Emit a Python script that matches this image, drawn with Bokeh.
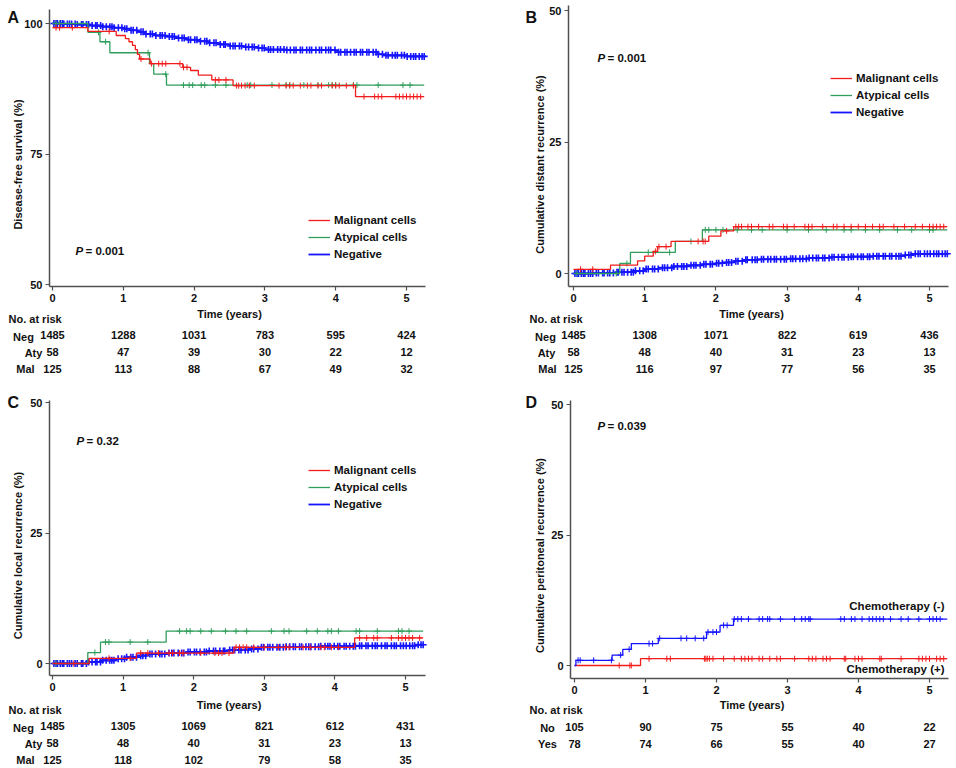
import numpy as np
from bokeh.plotting import figure
from bokeh.models import Range1d, Label, Legend, LegendItem, ColumnDataSource
from bokeh.core.properties import value
from bokeh.layouts import column, row
from bokeh.embed import file_html
from bokeh.resources import INLINE

# ------------------------------------------------------------------ data
years = [0, 1, 2, 3, 4, 5]
follow_end = 5.25

# Panel A - disease-free survival (%)
a_neg_t = [0, 0.15, 0.35, 0.55, 0.7, 0.85, 1.0, 1.1, 1.2, 1.3, 1.45, 1.6, 1.75, 1.9, 2.05, 2.2, 2.35, 2.5, 2.7, 2.9, 3.0, 3.3, 4.0, 4.6, 4.7, 5.0]
a_neg_v = [100, 99.9, 99.8, 99.6, 99.4, 99.2, 99.0, 98.7, 98.4, 98.0, 97.7, 97.5, 97.2, 96.9, 96.6, 96.3, 96.0, 95.7, 95.5, 95.3, 95.0, 94.9, 94.5, 94.1, 93.9, 93.7]
a_aty_t = [0, 0.5, 0.67, 0.81, 1.37, 1.43, 1.61]
a_aty_v = [100, 98.3, 96.5, 94.4, 92.3, 90.3, 88.2]
a_mal_t = [0, 0.5, 0.9, 1.03, 1.08, 1.13, 1.17, 1.2, 1.23, 1.38, 1.84, 1.95, 2.06, 2.25, 2.55, 4.28]
a_mal_v = [99.2, 98.5, 97.7, 97.1, 96.5, 95.8, 95.0, 94.1, 93.2, 92.3, 91.6, 91.0, 90.1, 89.2, 88.1, 86.0]
a_aty_cens = [0.05, 0.1, 0.65, 0.75, 1.35, 1.6, 1.85, 1.93, 1.98, 2.1, 2.15, 2.3, 2.45, 2.75, 2.8, 3.1, 3.3, 3.35, 3.55, 3.75, 3.9, 3.95, 4.0, 4.25, 4.3, 4.6, 4.95, 5.05]
a_mal_cens = [0.05, 0.1, 0.28, 0.8, 1.25, 1.4, 1.5, 1.55, 1.6, 1.8, 1.85, 1.9, 2.3, 2.35, 2.45, 2.6, 2.63, 2.67, 2.72, 2.78, 2.85, 3.2, 3.3, 3.35, 3.4, 3.5, 3.6, 3.65, 3.75, 3.8, 3.95, 4.0, 4.05, 4.15, 4.25, 4.4, 4.55, 4.6, 4.65, 4.85, 4.9, 4.95, 5.0, 5.05, 5.1, 5.15, 5.2]

# Panel B - cumulative distant recurrence (%)
b_neg_t = [0, 0.3, 0.6, 0.85, 1.0, 1.2, 1.4, 1.6, 1.8, 2.0, 2.1, 2.25, 2.4, 2.6, 3.0, 3.3, 3.6, 3.9, 4.2, 4.65, 4.75]
b_neg_v = [0, 0.1, 0.25, 0.5, 0.85, 1.1, 1.35, 1.55, 1.75, 1.95, 2.1, 2.35, 2.6, 2.7, 2.8, 2.95, 3.1, 3.2, 3.3, 3.5, 3.75]
b_aty_t = [0, 0.65, 0.8, 1.43, 1.81]
b_aty_v = [0, 1.9, 4.0, 6.1, 8.3]
b_mal_t = [0, 0.52, 0.9, 1.0, 1.12, 1.18, 1.37, 1.9, 2.07, 2.25]
b_mal_v = [0.8, 1.6, 2.4, 3.3, 4.2, 5.1, 6.1, 7.1, 8.1, 8.9]
b_aty_cens = [0.05, 0.6, 0.75, 1.05, 1.35, 1.65, 1.85, 1.9, 2.0, 2.1, 2.3, 2.5, 2.65, 3.0, 3.3, 3.55, 3.8, 3.9, 4.1, 4.3, 4.55, 4.75, 5.0, 5.05]
b_mal_cens = [0.1, 0.27, 1.15, 1.2, 1.3, 1.75, 1.82, 1.85, 2.15, 2.28, 2.32, 2.36, 2.45, 2.5, 2.6, 2.75, 2.8, 2.95, 3.0, 3.1, 3.25, 3.3, 3.35, 3.5, 3.65, 3.7, 3.8, 3.9, 4.0, 4.1, 4.2, 4.3, 4.35, 4.5, 4.65, 4.8, 4.9, 5.0, 5.05, 5.1, 5.15, 5.2]

# Panel C - cumulative local recurrence (%)
c_neg_t = [0, 0.5, 0.7, 0.9, 1.05, 1.2, 1.35, 1.6, 1.9, 2.2, 2.5, 2.8, 2.95, 3.3, 3.8, 4.3, 5.15]
c_neg_v = [0, 0.3, 0.6, 0.9, 1.2, 1.5, 1.8, 2.0, 2.2, 2.4, 2.6, 2.8, 3.1, 3.2, 3.3, 3.4, 3.6]
c_aty_t = [0, 0.5, 0.68, 1.61]
c_aty_v = [0, 2.1, 4.1, 6.2]
c_mal_t = [0, 0.52, 1.19, 2.57, 4.28]
c_mal_v = [0, 1.0, 2.0, 3.1, 4.9]
c_aty_cens = [0.05, 0.6, 0.75, 0.8, 1.1, 1.35, 1.8, 1.9, 1.95, 2.1, 2.25, 2.45, 2.6, 2.75, 3.1, 3.28, 3.35, 3.6, 3.75, 3.9, 3.95, 4.05, 4.3, 4.35, 4.6, 4.9, 4.95, 5.05]
c_mal_cens = [0.3, 0.8, 1.1, 1.25, 1.35, 1.5, 1.65, 1.7, 1.8, 1.85, 2.1, 2.3, 2.35, 2.4, 2.5, 2.6, 2.65, 2.7, 2.75, 2.85, 3.0, 3.2, 3.3, 3.35, 3.55, 3.65, 3.8, 3.85, 3.95, 4.05, 4.35, 4.45, 4.55, 4.6, 4.8, 4.9, 4.95, 5.0, 5.05, 5.1, 5.2]

# censored times for the Negative group (dense)
neg_cens = [0.02, 0.05, 0.07, 0.11, 0.14, 0.16, 0.21, 0.24, 0.27, 0.32, 0.35, 0.41, 0.43, 0.48, 0.51, 0.56, 0.61, 0.63, 0.68, 0.71, 0.76, 0.81, 0.84, 0.87, 0.93, 0.98, 1.02, 1.05, 1.11, 1.14, 1.19, 1.25, 1.28, 1.32, 1.38, 1.41, 1.46, 1.52, 1.55, 1.59, 1.65, 1.69, 1.72, 1.78, 1.83, 1.86, 1.92, 1.95, 2.01, 2.04, 2.09, 2.15, 2.18, 2.22, 2.28, 2.31, 2.37, 2.42, 2.44, 2.51, 2.55, 2.58, 2.64, 2.67, 2.73, 2.77, 2.82, 2.85, 2.91, 2.96, 2.99, 3.05, 3.08, 3.12, 3.18, 3.22, 3.27, 3.31, 3.36, 3.41, 3.44, 3.5, 3.53, 3.59, 3.63, 3.66, 3.72, 3.77, 3.8, 3.86, 3.9, 3.93, 3.99, 4.04, 4.07, 4.13, 4.16, 4.21, 4.26, 4.29, 4.35, 4.38, 4.44, 4.47, 4.53, 4.57, 4.6, 4.66, 4.71, 4.74, 4.8, 4.84, 4.87, 4.93, 4.97, 5.01, 5.06, 5.1, 5.13, 5.18, 5.22, 5.25]

# Panel D - cumulative peritoneal recurrence (%)
d_no_t = [0, 0.02, 0.53, 0.68, 0.8, 1.18, 1.86, 2.05, 2.24]
d_no_v = [0, 1.0, 2.0, 3.1, 4.2, 5.2, 6.4, 7.7, 8.9]
d_yes_t = [0, 0.93]
d_yes_v = [0, 1.3]
d_no_cens = [0.05, 0.08, 0.27, 0.52, 0.65, 0.77, 1.05, 1.1, 1.2, 1.5, 1.58, 1.7, 1.82, 1.88, 1.95, 2.0, 2.1, 2.15, 2.25, 2.3, 2.35, 2.45, 2.6, 2.65, 2.72, 2.75, 2.9, 3.1, 3.2, 3.25, 3.3, 3.32, 3.75, 3.8, 3.9, 3.95, 4.05, 4.15, 4.2, 4.25, 4.3, 4.35, 4.45, 4.6, 4.7, 4.85, 5.0, 5.05, 5.1, 5.15]
d_yes_cens = [0.63, 0.78, 0.8, 1.05, 1.3, 1.35, 1.83, 1.85, 1.87, 1.9, 1.95, 2.1, 2.25, 2.35, 2.4, 2.45, 2.5, 2.6, 2.65, 2.75, 2.85, 2.9, 3.1, 3.3, 3.35, 3.4, 3.5, 3.55, 3.6, 3.8, 3.82, 3.95, 4.0, 4.05, 4.3, 4.32, 4.6, 4.85, 4.9, 4.95, 5.0, 5.1, 5.15, 5.2]

# numbers at risk
a_risk = {"Neg": [1485, 1288, 1031, 783, 595, 424], "Aty": [58, 47, 39, 30, 22, 12], "Mal": [125, 113, 88, 67, 49, 32]}
b_risk = {"Neg": [1485, 1308, 1071, 822, 619, 436], "Aty": [58, 48, 40, 31, 23, 13], "Mal": [125, 116, 97, 77, 56, 35]}
c_risk = {"Neg": [1485, 1305, 1069, 821, 612, 431], "Aty": [58, 48, 40, 31, 23, 13], "Mal": [125, 118, 102, 79, 58, 35]}
d_risk = {"No": [105, 90, 75, 55, 40, 22], "Yes": [78, 74, 66, 55, 40, 27]}

# ------------------------------------------------------------------ style / layout (reference pixel anchors)
FONT = "Liberation Sans"
RED = "#f21c1c"
GREEN = "#2f9e5c"
BLUE = "#1414ff"
AXC = "#505050"
TXT = "#111111"

LAY = {
    "A": dict(W=478, H=390, ox=0, oy=0, t0=52, t5=406, ya=(100, 23), yb=(50, 284), xaxis_y=286, yaxis_x=49, right=425, top=9,
              rows=[318, 336, 352, 368], names_x=[23, 33, 25], head_x=8, time_y=313, ylab=(17, 164),
              letter=(7, 17), p=(75, 250), legend=(308, 212)),
    "B": dict(W=474, H=390, ox=478, oy=0, t0=573, t5=929, ya=(0, 273), yb=(50, 10), xaxis_y=286, yaxis_x=568, right=948, top=5,
              rows=[318, 336, 352, 368], names_x=[545, 546, 547], head_x=529, time_y=313, ylab=(539, 164),
              letter=(525, 17), p=(597, 57), legend=(830, 70)),
    "C": dict(W=478, H=374, ox=0, oy=390, t0=52, t5=405, ya=(0, 663), yb=(50, 402), xaxis_y=675, yaxis_x=49, right=425, top=400,
              rows=[709, 727, 743, 759], names_x=[23, 33, 25], head_x=8, time_y=704, ylab=(17, 555),
              letter=(7, 402), p=(76, 440), legend=(308, 462)),
    "D": dict(W=474, H=374, ox=478, oy=390, t0=574, t5=929, ya=(0, 665), yb=(50, 404), xaxis_y=678, yaxis_x=570, right=948, top=400,
              rows=[709, 727, 743], names_x=[547, 547], head_x=529, time_y=704, ylab=(539, 555),
              letter=(525, 402), p=(597, 425), legend=None),
}
for k in LAY:
    LAY[k]["name"] = k


def make_panel(cfg, yticks, ylabel):
    W, H, ox, oy = cfg["W"], cfg["H"], cfg["ox"], cfg["oy"]
    kx = (cfg["t5"] - cfg["t0"]) / 5.0
    fx0 = cfg["t0"] - ox
    (v1, r1), (v2, r2) = cfg["ya"], cfg["yb"]
    ky = (r1 - r2) / (v2 - v1)
    f1 = r1 - oy
    p = figure(width=W, height=H, title=None,
               x_range=Range1d(-fx0 / kx, (W - fx0) / kx),
               y_range=Range1d(v1 - (H - f1) / ky, v1 + f1 / ky),
               output_backend="svg", toolbar_location=None,
               min_border_left=0, min_border_right=0, min_border_top=0, min_border_bottom=0)
    p.grid.visible = False
    p.outline_line_color = None
    yax_t = (cfg["yaxis_x"] - cfg["t0"]) / kx
    xax_v = v1 - (cfg["xaxis_y"] - r1) / ky
    p.xaxis.fixed_location = xax_v
    p.yaxis.fixed_location = yax_t
    p.xaxis.bounds = (yax_t, (cfg["right"] - cfg["t0"]) / kx)
    p.yaxis.bounds = (xax_v, v1 + (r1 - cfg["top"]) / ky)
    p.xaxis.ticker = years
    p.yaxis.ticker = yticks
    for ax in (p.xaxis, p.yaxis):
        ax.axis_line_color = AXC
        ax.axis_line_width = 1.5
        ax.major_tick_line_color = AXC
        ax.major_tick_line_width = 1.2
        ax.major_tick_out = 4
        ax.major_tick_in = 0
        ax.minor_tick_line_color = None
        ax.major_label_text_font = FONT
        ax.major_label_text_font_style = "bold"
        ax.major_label_text_font_size = "11px"
        ax.major_label_text_color = TXT
        ax.major_label_standoff = 3
    # rows of the risk table on their own scale
    rows = cfg["rows"]
    dy = (rows[-1] - rows[0]) / (len(rows) - 1)
    y0 = rows[0] - oy
    p.extra_y_ranges = {"risk": Range1d(start=(H - y0) / dy, end=-y0 / dy)}

    def sx(x):
        return x - ox

    def sy(y):
        return H - (y - oy)

    def txt(x, y, text, size="11px", style="bold", align="left", angle=0.0, x_units="screen"):
        xx = sx(x) if x_units == "screen" else x
        p.add_layout(Label(x=xx, y=sy(y), x_units=x_units, y_units="screen", text=text, angle=angle,
                           text_font=FONT, text_font_size=size, text_font_style=style,
                           text_color=TXT, text_align=align, text_baseline="middle"))

    txt(cfg["ylab"][0], cfg["ylab"][1], ylabel, align="center", angle=np.pi / 2)
    txt(2.5, cfg["time_y"], "Time (years)", align="center", x_units="data")
    txt(cfg["letter"][0], cfg["letter"][1], cfg["name"], size="16px")
    return p, txt, sx, sy


def curve(p, t, v, color, width=1.3):
    xs = list(t) + [follow_end]
    ys = list(v) + [v[-1]]
    return p.step(xs, ys, mode="after", line_color=color, line_width=width)


def censor(p, t, v, cens, color, size=6, width=1.0):
    idx = np.searchsorted(np.array(t), np.array(cens), side="right") - 1
    ys = np.array(v)[idx]
    p.scatter(cens, ys, marker="cross", size=size, line_color=color, line_width=width)


def pvalue(txt, cfg, val):
    x, y = cfg["p"]
    txt(x, y, "P", size="11.5px", style="bold italic")
    txt(x + 10, y, "= " + val, size="11.5px")


def risk_table(p, txt, cfg, risk):
    rows = cfg["rows"]
    txt(cfg["head_x"], rows[0], "No. at risk")
    xs, ys, tx = [], [], []
    for i, (name, vals) in enumerate(risk.items()):
        txt(cfg["names_x"][i], rows[i + 1], name, align="center")
        for t, n in zip(years, vals):
            xs.append(t)
            ys.append(i + 1)
            tx.append(str(n))
    src = ColumnDataSource(dict(x=xs, y=ys, text=tx))
    p.text(x="x", y="y", text="text", source=src, y_range_name="risk",
           text_font=value(FONT), text_font_size="11px", text_font_style="bold",
           text_color=TXT, text_align="center", text_baseline="middle")


def legend(p, cfg, sx, sy, rs):
    items = [LegendItem(label="Malignant cells", renderers=[rs[0]]),
             LegendItem(label="Atypical cells", renderers=[rs[1]]),
             LegendItem(label="Negative", renderers=[rs[2]])]
    lx, ly = cfg["legend"]
    lg = Legend(items=items, location=(sx(lx), sy(ly + 50)), border_line_color=None, background_fill_alpha=0,
                label_text_font=FONT, label_text_font_style="bold", label_text_font_size="11.5px",
                label_text_color=TXT, glyph_width=22, glyph_height=16, label_height=16,
                spacing=1, padding=0, margin=0, label_standoff=4)
    p.add_layout(lg)


def three_groups(p, neg_t, neg_v, aty_t, aty_v, mal_t, mal_v, aty_c, mal_c):
    rb = curve(p, neg_t, neg_v, BLUE, width=1.8)
    censor(p, neg_t, neg_v, neg_cens, BLUE, size=7, width=1.6)
    rg = curve(p, aty_t, aty_v, GREEN)
    censor(p, aty_t, aty_v, aty_c, GREEN)
    rr = curve(p, mal_t, mal_v, RED)
    censor(p, mal_t, mal_v, mal_c, RED)
    return [rr, rg, rb]


# ------------------------------------------------------------------ panel A
cfg = LAY["A"]
pA, txt, sx, sy = make_panel(cfg, [50, 75, 100], "Disease-free survival (%)")
rs = three_groups(pA, a_neg_t, a_neg_v, a_aty_t, a_aty_v, a_mal_t, a_mal_v, a_aty_cens, a_mal_cens)
legend(pA, cfg, sx, sy, rs)
pvalue(txt, cfg, "0.001")
risk_table(pA, txt, cfg, a_risk)

# ------------------------------------------------------------------ panel B
cfg = LAY["B"]
pB, txt, sx, sy = make_panel(cfg, [0, 25, 50], "Cumulative distant recurrence (%)")
rs = three_groups(pB, b_neg_t, b_neg_v, b_aty_t, b_aty_v, b_mal_t, b_mal_v, b_aty_cens, b_mal_cens)
legend(pB, cfg, sx, sy, rs)
pvalue(txt, cfg, "0.001")
risk_table(pB, txt, cfg, b_risk)

# ------------------------------------------------------------------ panel C
cfg = LAY["C"]
pC, txt, sx, sy = make_panel(cfg, [0, 25, 50], "Cumulative local recurrence (%)")
rs = three_groups(pC, c_neg_t, c_neg_v, c_aty_t, c_aty_v, c_mal_t, c_mal_v, c_aty_cens, c_mal_cens)
legend(pC, cfg, sx, sy, rs)
pvalue(txt, cfg, "0.32")
risk_table(pC, txt, cfg, c_risk)

# ------------------------------------------------------------------ panel D
cfg = LAY["D"]
pD, txt, sx, sy = make_panel(cfg, [0, 25, 50], "Cumulative peritoneal recurrence (%)")
curve(pD, d_yes_t, d_yes_v, RED)
censor(pD, d_yes_t, d_yes_v, d_yes_cens, RED)
curve(pD, d_no_t, d_no_v, BLUE)
censor(pD, d_no_t, d_no_v, d_no_cens, BLUE)
txt(944, 605, "Chemotherapy (-)", size="11.5px", align="right")
txt(944, 668, "Chemotherapy (+)", size="11.5px", align="right")
pvalue(txt, cfg, "0.039")
risk_table(pD, txt, cfg, d_risk)

layout = column(row(pA, pB), row(pC, pD))
open("out.html", "w").write(file_html(layout, INLINE))
